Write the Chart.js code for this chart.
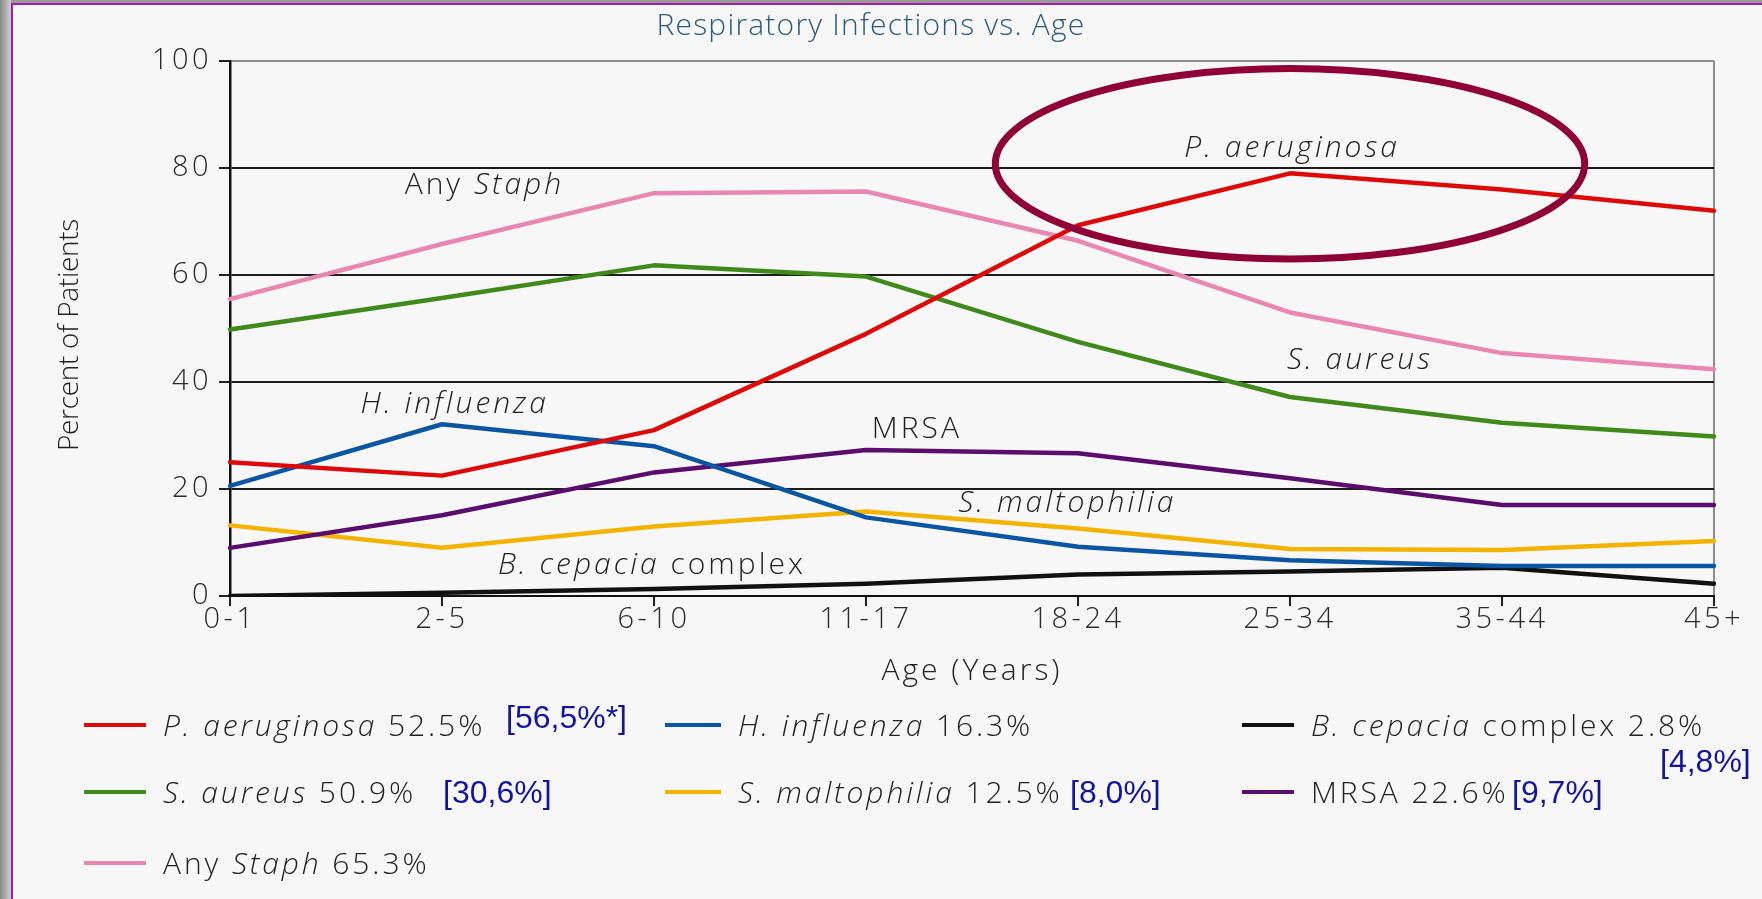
<!DOCTYPE html>
<html><head><meta charset="utf-8">
<script src="https://cdn.jsdelivr.net/npm/chart.js@4.4.0/dist/chart.umd.min.js"></script>
<style>
html,body{margin:0;padding:0;width:1762px;height:899px;overflow:hidden;background:#f7f7f7;}
#lstrip{position:absolute;left:0;top:0;width:11px;height:899px;background:linear-gradient(to right,#8a8a8a,#cfcfcf);}
#tstrip{position:absolute;left:0;top:0;width:1762px;height:3px;background:#9a9a9a;}
#lline{position:absolute;left:11px;top:3px;width:2px;height:896px;background:#a21ca8;}
#tline{position:absolute;left:11px;top:3px;width:1751px;height:2px;background:#a21ca8;}
canvas{position:absolute;left:0;top:0;}
.lg{position:absolute;white-space:nowrap;font-family:"Open Sans","Lato",sans-serif;font-weight:300;font-size:30px;color:#222;line-height:34px;transform:translateY(-50%);letter-spacing:2.9px;}
.sw{position:absolute;height:4px;transform:translateY(-50%);}
.br{position:absolute;white-space:nowrap;font-family:"Liberation Sans Narrow","Liberation Sans",sans-serif;font-size:32px;color:#1414a0;line-height:36px;transform:translateY(-50%);}
</style></head>
<body>
<div id="tstrip"></div><div id="lstrip"></div><div id="lline"></div><div id="tline"></div>
<canvas id="c" width="1762" height="899" style="width:1762px;height:899px"></canvas>
<div id="legend"></div>
<script>
// ---- data ----
const ageGroups = ['0-1','2-5','6-10','11-17','18-24','25-34','35-44','45+'];
const pAeruginosa  = [25, 22.5, 31, 49, 69.3, 79, 76, 72];
const sAureus      = [49.8, 55.7, 61.8, 59.7, 47.5, 37.2, 32.4, 29.8];
const anyStaph     = [55.5, 65.8, 75.3, 75.6, 66.4, 53, 45.4, 42.4];
const hInfluenza   = [20.6, 32.1, 28, 14.7, 9.2, 6.7, 5.6, 5.6];
const mrsa         = [9, 15.1, 23.1, 27.3, 26.7, 22, 17, 17];
const sMaltophilia = [13.2, 9, 13, 15.8, 12.6, 8.8, 8.6, 10.3];
const bCepacia     = [0, 0.6, 1.3, 2.3, 4, 4.6, 5.3, 2.3];
const yTicks = [0, 20, 40, 60, 80, 100];

const seriesNames = ['P. aeruginosa','S. aureus','Any Staph','H. influenza','MRSA','S. maltophilia','B. cepacia complex'];
const seriesData = [pAeruginosa, sAureus, anyStaph, hInfluenza, mrsa, sMaltophilia, bCepacia];
const seriesColors = ['#dd0a0a','#3f8a1a','#e987b3','#0b56a2','#5a0d6c','#f2b400','#111111'];

const FONT = '"Open Sans","Lato",sans-serif';

// in-plot labels: [parts, categoryIndex, value]
const inLabels = [
  [[['Any ',false],['Staph',true]], 1.20, 76.7],
  [[['P. aeruginosa',true]], 5.01, 83.7],
  [[['S. aureus',true]], 5.33, 44.0],
  [[['H. influenza',true]], 1.06, 35.8],
  [[['MRSA',false]], 3.24, 31.1],
  [[['S. maltophilia',true]], 3.95, 17.3],
  [[['B. cepacia',true],[' complex',false]], 1.99, 5.7]
];

const annot = {
  id:'annot',
  beforeDraw(chart){ chart.ctx.letterSpacing = '3.5px'; },
  afterDatasetsDraw(chart){
    const {ctx, scales:{x,y}} = chart;
    ctx.save();
    ctx.fillStyle = '#222';
    ctx.textBaseline = 'middle';
    ctx.letterSpacing = '3px';
    for (const [parts, xi, v] of inLabels){
      const fonts = parts.map(p => (p[1]?'italic ':'') + '300 30px ' + FONT);
      let w = 0;
      parts.forEach((p,i)=>{ctx.font=fonts[i]; w += ctx.measureText(p[0]).width;});
      let px = x.getPixelForValue(xi) - w/2;
      const py = y.getPixelForValue(v);
      ctx.textAlign='left';
      parts.forEach((p,i)=>{ctx.font=fonts[i]; ctx.fillText(p[0], px, py); px += ctx.measureText(p[0]).width;});
    }
    // ellipse highlight
    const cx = x.getPixelForValue(5.0), cy = y.getPixelForValue(80.8);
    const rx = x.getPixelForValue(6.39) - cx, ry = y.getPixelForValue(80.8-17.8) - cy;
    ctx.beginPath();
    ctx.ellipse(cx, cy, rx, ry, 0, 0, Math.PI*2);
    ctx.strokeStyle = '#8f0036';
    ctx.lineWidth = 7;
    ctx.stroke();
    // title and axis titles
    ctx.letterSpacing = '1.2px';
    ctx.font = '300 30px ' + FONT;
    ctx.fillStyle = '#2c5a7c';
    ctx.textAlign = 'center';
    ctx.fillText('Respiratory Infections vs. Age', 871, 26);
    ctx.letterSpacing = '3px';
    ctx.fillStyle = '#222';
    ctx.fillText('Age (Years)', (x.left+x.right)/2, 671);
    ctx.letterSpacing = '-0.3px';
    ctx.font = '300 28px ' + FONT;
    ctx.translate(70, 335);
    ctx.rotate(-Math.PI/2);
    ctx.fillText('Percent of Patients', 0, 0);
    ctx.restore();
  },
  afterDraw(chart){ chart.ctx.letterSpacing = '0px'; }
};

new Chart(document.getElementById('c'), {
  type:'line',
  data:{
    labels: ageGroups,
    datasets: seriesNames.map((n,i)=>({label:n, data:seriesData[i], borderColor:seriesColors[i], backgroundColor:seriesColors[i], fill:false}))
  },
  options:{
    responsive:false, animation:false,
    layout:{padding:{left:0,right:48,top:61,bottom:0}},
    plugins:{legend:{display:false}, title:{display:false}, tooltip:{enabled:false}},
    elements:{point:{radius:0}, line:{borderWidth:4.5, tension:0, borderCapStyle:'round', borderJoinStyle:'round'}},
    scales:{
      x:{
        type:'category', offset:false,
        grid:{color: c => c.index === ageGroups.length-1 ? '#8c8c8c' : 'rgba(0,0,0,0)', lineWidth:2, tickLength:10, tickColor:'#222', tickWidth:2},
        border:{display:true, color:'#111', width:2},
        ticks:{font:{family:FONT, size:29, weight:'300'}, color:'#2a2a2a', padding:-4, maxRotation:0, autoSkip:false},
        afterFit: s => { s.height = 303; }
      },
      y:{
        min:0, max:100,
        afterBuildTicks: s => { s.ticks = yTicks.map(v=>({value:v})); },
        grid:{color: c => (c.tick && c.tick.value === 100) ? '#8c8c8c' : '#1c1c1c', lineWidth:2, tickLength:11, tickColor:'#222', tickWidth:2},
        border:{display:true, color:'#111', width:2.5},
        ticks:{font:{family:FONT, size:29, weight:'300'}, color:'#2a2a2a', padding:7},
        afterFit: s => { s.width = 230; }
      }
    }
  },
  plugins:[annot]
});

// ---- legend (HTML text) ----
const legendItems = [
  // [seriesIndex, swatchX, textX, y, html, bracket, bracketX, bracketY]
  [0, 84, 163, 725, '<i>P. aeruginosa</i> 52.5%', '[56,5%*]', 506, 717],
  [3, 665, 738, 725, '<i>H. influenza</i> 16.3%', null],
  [6, 1242, 1311, 725, '<i>B. cepacia</i> complex 2.8%', '[4,8%]', 1660, 761],
  [1, 84, 163, 792, '<i>S. aureus</i> 50.9%', '[30,6%]', 443, 792],
  [5, 665, 738, 792, '<i>S. maltophilia</i> 12.5%', '[8,0%]', 1070, 792],
  [4, 1242, 1311, 792, 'MRSA 22.6%', '[9,7%]', 1512, 792],
  [2, 84, 163, 863, 'Any <i>Staph</i> 65.3%', null]
];
const lg = document.getElementById('legend');
for (const it of legendItems){
  const sw = document.createElement('div');
  sw.className='sw';
  sw.style.left = it[1]+'px'; sw.style.top = it[3]+'px'; sw.style.width = (it[2]-it[1]-17)+'px';
  sw.style.background = seriesColors[it[0]];
  lg.appendChild(sw);
  const t = document.createElement('div');
  t.className='lg'; t.style.left = it[2]+'px'; t.style.top = it[3]+'px';
  t.innerHTML = it[4];
  lg.appendChild(t);
  if (it[5]){
    const b = document.createElement('div');
    b.className='br'; b.style.left = it[6]+'px'; b.style.top = it[7]+'px';
    b.textContent = it[5];
    lg.appendChild(b);
  }
}
</script>
</body></html>
